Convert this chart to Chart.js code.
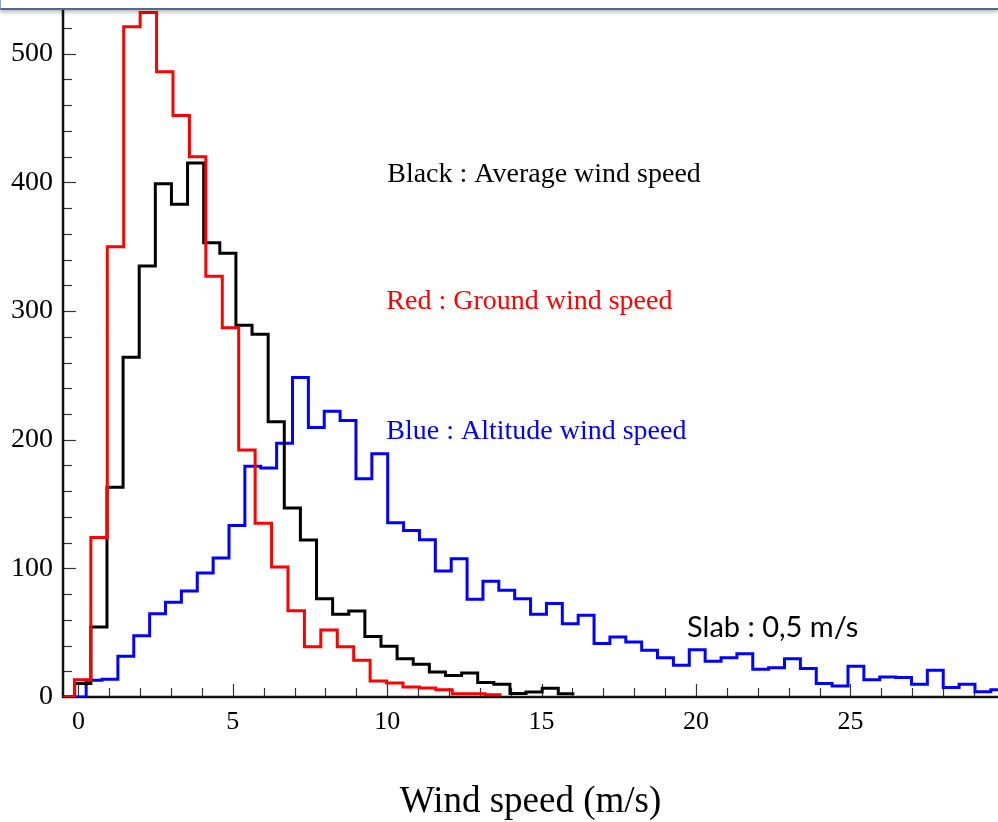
<!DOCTYPE html>
<html>
<head>
<meta charset="utf-8">
<script src="https://cdn.jsdelivr.net/npm/chart.js@4.4.1/dist/chart.umd.min.js"></script>
<style>
  html, body { margin: 0; padding: 0; background: #fff; }
  #wrap { position: relative; width: 998px; height: 822px; overflow: hidden; }
  #frame { position: absolute; left: 0; top: 0; width: 997px; height: 8px;
           border-left: 1px solid #86a6d6; border-bottom: 2px solid #56698a;
           box-shadow: 0 2px 4px rgba(0, 0, 0, 0.3); background: #fff; }
</style>
</head>
<body>
<div id="wrap">
  <canvas id="windChart" width="998" height="822"></canvas>
  <div id="frame"></div>
</div>
<script>
// histogram counts per slab
const redStart = -0.13, redBin = 0.532;     // ground wind speed
const redValues = [13.5, 124, 350, 521, 532, 486, 452, 420, 327, 287, 192, 135, 101, 67,
  39, 52, 39, 28.5, 12.4, 10.9, 7.8, 7.0, 5.7, 2.6, 2.6, 1.8];

const blackStart = -0.12, blackBin = 0.522; // average wind speed
const blackValues = [10.4, 54.4, 163, 264, 335, 399, 383, 415, 353, 345, 289, 282, 214, 147,
  122, 76.4, 64.3, 66.8, 47, 39.5, 29.8, 25.4, 19.4, 16.8, 18.6, 11.2, 10, 2.8, 3.9, 6.8, 2.6];

const blueStart = 0.25, blueBin = 0.514;    // altitude wind speed
const blueValues = [13, 13.8, 31.6, 47.7, 64.8, 73.6, 82.4, 96.4, 108, 133.4, 179.3, 178,
  197.2, 248.4, 209.5, 222.2, 215, 169.7, 189.1, 135.5, 129.5, 122.3, 97.9, 107.5, 75.9, 89.9,
  82.9, 76.4, 64.3, 72.6, 57, 63.5, 41.5, 46.6, 42.7, 36.3, 30.6, 24.6, 36.8, 27.7, 30.6, 33.7,
  21.5, 22.8, 29.8, 22.1, 10.4, 8.5, 23.9, 13.5, 15.5, 15.1, 9.9, 20.7, 7.3, 9.9, 4, 5.7];

const xTickValues = [0, 5, 10, 15, 20, 25];
const yTickValues = [0, 100, 200, 300, 400, 500];
const xMin = -0.5, xMax = 29.78, yMax = 534;

// step outline: flat zero from the axis, then one point per bin edge
function steps(start, width, values) {
  const pts = [{ x: xMin, y: 0 }];
  values.forEach((v, i) => pts.push({ x: start + i * width, y: v }));
  pts.push({ x: start + values.length * width, y: values[values.length - 1] });
  return pts;
}

const serif = 'Liberation Serif, Times New Roman, serif';

const frame = {
  id: 'frame',
  beforeDatasetsDraw(chart) {
    const { ctx, chartArea: a, scales: { x, y } } = chart;
    ctx.save();
    ctx.strokeStyle = '#333';
    ctx.lineWidth = 1.2;
    for (let v = 0; v <= 29; v++) {
      const px = Math.round(x.getPixelForValue(v)) + 0.5;
      ctx.beginPath();
      ctx.moveTo(px, a.bottom);
      ctx.lineTo(px, a.bottom - (v % 5 === 0 ? 13 : 9));
      ctx.stroke();
    }
    for (let v = 20; v <= 520; v += 20) {
      const py = Math.round(y.getPixelForValue(v)) + 0.5;
      ctx.beginPath();
      ctx.moveTo(a.left, py);
      ctx.lineTo(a.left + (v % 100 === 0 ? 13 : 9), py);
      ctx.stroke();
    }
    ctx.strokeStyle = '#111';
    ctx.lineWidth = 2.5;
    ctx.beginPath();
    ctx.moveTo(a.left, a.top);
    ctx.lineTo(a.left, a.bottom);
    ctx.lineTo(a.right, a.bottom);
    ctx.stroke();
    ctx.restore();
  },
  afterDatasetsDraw(chart) {
    const { ctx, scales: { x, y } } = chart;
    const notes = [
      ['Black : Average wind speed', 10.0, 406, '#000', '28px ' + serif],
      ['Red : Ground wind speed', 9.97, 307.5, '#ff0000', '28px ' + serif],
      ['Blue : Altitude wind speed', 9.97, 206.5, '#0000ff', '28px ' + serif],
      ['Slab : 0,5 m/s', 19.71, 54.2, '#000', '29px Lato, sans-serif']
    ];
    ctx.save();
    ctx.textAlign = 'left';
    ctx.textBaseline = 'middle';
    notes.forEach(([t, vx, vy, c, f]) => {
      ctx.fillStyle = c;
      ctx.font = f;
      ctx.fillText(t, x.getPixelForValue(vx), y.getPixelForValue(vy));
    });
    ctx.restore();
  }
};

const ctx = document.getElementById('windChart').getContext('2d');
const windChart = new Chart(ctx, {
  type: 'line',
  data: {
    datasets: [
      { label: 'Ground', data: steps(redStart, redBin, redValues), borderColor: '#ff0000' },
      { label: 'Average', data: steps(blackStart, blackBin, blackValues), borderColor: '#000000' },
      { label: 'Altitude', data: steps(blueStart, blueBin, blueValues), borderColor: '#0000ff' }
    ]
  },
  options: {
    responsive: false,
    animation: false,
    layout: { padding: { top: 10, right: 0, bottom: 0, left: 0 } },
    elements: {
      line: { stepped: 'before', borderWidth: 3, tension: 0, fill: false },
      point: { radius: 0 }
    },
    plugins: {
      legend: { display: false },
      tooltip: { enabled: false }
    },
    scales: {
      x: {
        type: 'linear',
        min: xMin,
        max: xMax,
        grid: { display: false, drawTicks: false },
        border: { display: false },
        afterBuildTicks: s => { s.ticks = xTickValues.map(v => ({ value: v })); },
        afterFit: s => { s.height = 125; s.paddingLeft = 0; s.paddingRight = 0; },
        ticks: { color: '#000', padding: 10, maxRotation: 0, font: { family: serif, size: 26 } },
        title: {
          display: true,
          text: 'Wind speed (m/s)',
          color: '#000',
          padding: { top: 0, bottom: -2 },
          font: { family: serif, size: 37 }
        }
      },
      y: {
        min: 0,
        max: yMax,
        grid: { display: false, drawTicks: false },
        border: { display: false },
        afterBuildTicks: s => { s.ticks = yTickValues.map(v => ({ value: v })); },
        afterFit: s => { s.width = 63; s.paddingTop = 0; s.paddingBottom = 0; },
        ticks: { color: '#000', padding: 10, font: { family: serif, size: 28 } }
      }
    }
  },
  plugins: [frame]
});
</script>
</body>
</html>
